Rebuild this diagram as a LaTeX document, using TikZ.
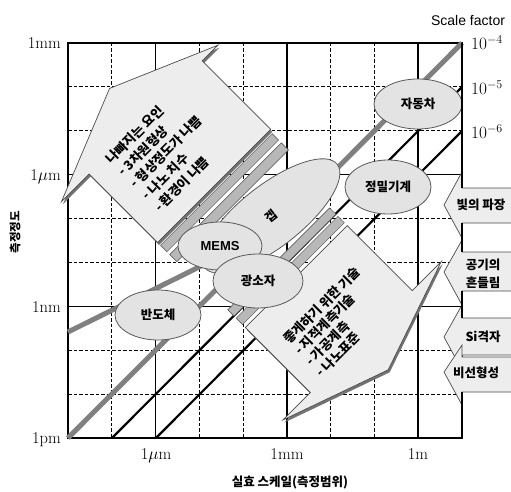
\documentclass[tikz,border=0pt]{standalone}
\usepackage{fontspec}
\usetikzlibrary{shapes.geometric}
\newfontfamily\kr{Noto Sans CJK KR}
\newfontfamily\arial{Liberation Sans}
\begin{document}
\begin{tikzpicture}[x=1pt,y=-1pt,
  gsolid/.style={line width=1.6pt},
  gdash/.style={line width=1.1pt, dash pattern=on 3.5pt off 2pt},
  blob/.style={ellipse, draw=black!65, line width=0.8pt, fill=black!11, inner sep=0pt, font=\kr\bfseries\fontsize{12.5}{14}\selectfont},
  arrowfill/.style={fill=black!7, draw=black!70, line width=0.7pt},
  shadowfill/.style={fill=black!55},
  stripe/.style={fill=black!28, draw=black!70, line width=0.5pt},
  axlab/.style={font=\fontsize{16.5}{18}\selectfont, inner sep=0pt},
  krtext/.style={font=\kr\bfseries\fontsize{12.5}{15}\selectfont, inner sep=0pt},
  sidebox/.style={fill=black!7, draw=black!70, line width=0.7pt},
  grayline/.style={line width=5pt, black!50},
  blackline/.style={line width=2.2pt, black},
  frameline/.style={line width=2pt, black},
]
\useasboundingbox (0,0) rectangle (511,492);
\fill[white] (0,0) rectangle (511,492);

% grid
\foreach \i in {1,3,4,6,7} \draw[gdash] ({68+43.778*\i},43) -- ({68+43.778*\i},438);
\foreach \i in {2,5,8} \draw[gsolid] ({68+43.778*\i},43) -- ({68+43.778*\i},438);
\foreach \j in {1,2,4,5,7,8} \draw[gdash] (68,{43+43.889*\j}) -- (462,{43+43.889*\j});
\foreach \j in {3,6} \draw[gsolid] (68,{43+43.889*\j}) -- (462,{43+43.889*\j});
\draw[frameline] (68,43) rectangle (462,438);

% trend lines
\coordinate (sA) at (68,332);
\coordinate (sB) at (210,261.6);
\draw[grayline] (sA) -- (sB);
\coordinate (d4a) at (68,438);
\coordinate (d4b) at (462,43);
\coordinate (d5a) at (112,438);
\coordinate (d5b) at (462,87);
\coordinate (d6a) at (156,438);
\coordinate (d6b) at (462,131);
\draw[grayline] (d4a) -- (d4b);
\draw[blackline] (d5a) -- (d5b);
\draw[blackline] (d6a) -- (d6b);

% big arrows (in a frame rotated by 45 degrees)
\begin{scope}[x={(0.7071pt,0.7071pt)}, y={(-0.7071pt,0.7071pt)}]
  % upper-left arrow
  \fill[shadowfill, xshift=1.5pt, yshift=-2.5pt] (15,-140) -- (122,-186) -- (100,-186) -- (100,-283) -- (-60,-283) -- (-60,-186) -- (-99,-186) -- cycle;
  \draw[arrowfill] (15,-140) -- (122,-186) -- (100,-186) -- (100,-283) -- (-60,-283) -- (-60,-186) -- (-99,-186) -- cycle;
  \draw[stripe] (-60,-287) -- (98,-287) -- (98,-296) -- (-60,-296) -- cycle;
  \draw[stripe] (-60,-300) -- (98,-300) -- (98,-310) -- (-60,-310) -- cycle;
  % lower-right arrow
  \fill[shadowfill, xshift=1.5pt, yshift=-2.5pt] (13,-536) -- (127,-497) -- (86,-497) -- (86,-405) -- (-58,-405) -- (-58,-497) -- (-97,-497) -- cycle;
  \draw[arrowfill] (13,-536) -- (127,-497) -- (86,-497) -- (86,-405) -- (-58,-405) -- (-58,-497) -- (-97,-497) -- cycle;
  \draw[stripe] (-58,-401) -- (86,-401) -- (86,-392) -- (-58,-392) -- cycle;
  \draw[stripe] (-58,-389) -- (86,-389) -- (86,-380) -- (-58,-380) -- cycle;
\end{scope}

\node[krtext, font=\kr\bfseries\fontsize{13}{17}\selectfont, rotate=45, align=left] (badtxt) at (166,152)
  {나빠지는 요인\\- 3차원형상\\- 형상정도가 나쁨\\- 나노 치수\\- 환경이 나쁨};
\node[krtext, font=\kr\bfseries\fontsize{13}{15.5}\selectfont, rotate=45, align=left] (goodtxt) at (338,322)
  {좋게하기 위한 기술\\- 지적계측기술\\- 가공계측\\- 나노표준};

% ellipses
\node[blob, minimum width=88, minimum height=50] (car) at (418,104) {자동차};
\node[blob, minimum width=86, minimum height=54] (mech) at (388,187) {정밀기계};
\node[blob, minimum width=168, minimum height=62, rotate=38] (gap) at (271,216) {겝};
\node[blob, minimum width=84, minimum height=48, font=\arial\bfseries\fontsize{13}{14}\selectfont] (mems) at (220,246) {MEMS};
\node[blob, minimum width=90, minimum height=54] (opt) at (258,281) {광소자};
\node[blob, minimum width=86, minimum height=50] (semi) at (158,315) {반도체};

% right-side arrows
\foreach \ht/\tip/\hb/\bt/\bb in {172/205/238/188/223, 240/272/305/252/291, 305/337/370/318/355, 345/372/405/357/392}
  \draw[sidebox] (512,\bt) -- (462,\bt) -- (462,\ht) -- (444,\tip) -- (462,\hb) -- (462,\bb) -- (512,\bb);
\draw[frameline] (462,43) -- (462,188);
\draw[frameline] (462,223) -- (462,252);
\draw[frameline] (462,291) -- (462,318);
\draw[frameline] (462,392) -- (462,438);

\node[krtext] (light) at (481,205) {빛의 파장};
\node[krtext, align=center, font=\kr\bfseries\fontsize{12.5}{18}\selectfont] (air) at (483,274) {공기의\\흔들림};
\node[krtext] (si) at (483,337) {Si격자};
\node[krtext] (nonlin) at (476,373) {비선형성};

% axis labels
\node[axlab, anchor=base east] (l1) at (61,48.5) {1mm};
\node[axlab, anchor=base east] (l2) at (61,180.5) {1$\mu$m};
\node[axlab, anchor=base east] (l3) at (61,312.5) {1nm};
\node[axlab, anchor=base east] (l4) at (61,443.5) {1pm};
\node[axlab, anchor=base] (b1) at (156,459) {1$\mu$m};
\node[axlab, anchor=base] (b2) at (287,459) {1mm};
\node[axlab, anchor=base] (b3) at (418,459) {1m};
\node[axlab, anchor=base west] (r1) at (471,50) {$10^{-4}$};
\node[axlab, anchor=base west] (r2) at (471,94.5) {$10^{-5}$};
\node[axlab, anchor=base west] (r3) at (471,138.5) {$10^{-6}$};
\node[font=\arial\fontsize{14}{16}\selectfont, inner sep=0pt] (sf) at (468,20) {Scale factor};
\node[krtext, rotate=90, font=\kr\bfseries\fontsize{11.5}{13}\selectfont] (ylab) at (15,232) {측정정도};
\node[krtext] (xlab) at (290,483) {실효 스케일(측정범위)};
\end{tikzpicture}
\end{document}
